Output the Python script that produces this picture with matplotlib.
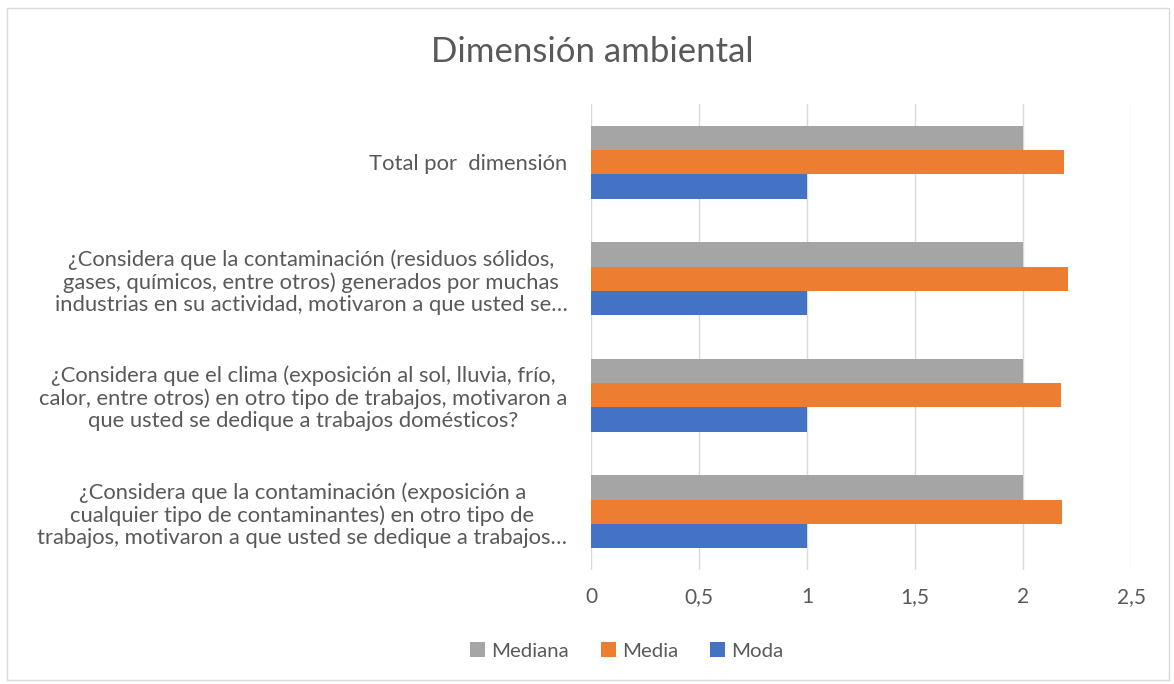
import matplotlib.pyplot as plt
import numpy as np

plt.rcParams['font.family'] = ['Lato', 'DejaVu Sans']

# categories listed bottom to top (matplotlib barh order)
categories = [
    "¿Considera que la contaminación (exposición a\ncualquier tipo de contaminantes) en otro tipo de\ntrabajos, motivaron a que usted se dedique a trabajos…",
    "¿Considera que el clima (exposición al sol, lluvia, frío,\ncalor, entre otros) en otro tipo de trabajos, motivaron a\nque usted se dedique a trabajos domésticos?",
    "¿Considera que la contaminación (residuos sólidos,\ngases, químicos, entre otros) generados por muchas\nindustrias en su actividad, motivaron a que usted se…",
    "Total por  dimensión",
]
mediana = [2, 2, 2, 2]
media = [2.18, 2.175, 2.21, 2.19]
moda = [1, 1, 1, 1]

tick_vals = [0, 0.5, 1, 1.5, 2, 2.5]
tick_labels = ["0", "0,5", "1", "1,5", "2", "2,5"]

text_col = "#595959"
c_mediana = "#A5A5A5"
c_media = "#ED7D31"
c_moda = "#4472C4"

fig = plt.figure(figsize=(11.74, 6.84), dpi=100)
ax = fig.add_axes([591 / 1174, 1 - 570 / 684, (1131 - 591) / 1174, (570 - 104) / 684])

y = np.arange(len(categories))
h = 0.21
ax.barh(y - h, moda, height=h, color=c_moda, label="Moda")
ax.barh(y, media, height=h, color=c_media, label="Media")
ax.barh(y + h, mediana, height=h, color=c_mediana, label="Mediana")

ax.set_xlim(0, 2.5)
ax.set_ylim(-0.5, len(categories) - 0.5)
ax.set_xticks(tick_vals)
ax.set_xticklabels(tick_labels, fontsize=15, color=text_col)
ax.set_yticks(y)
ax.set_yticklabels(categories, fontsize=15.8, color=text_col, multialignment="center",
                   linespacing=1.15)
ax.tick_params(axis="both", length=0)
ax.tick_params(axis="x", pad=12)
ax.tick_params(axis="y", pad=17)

ax.grid(axis="x", color="#D9D9D9", linewidth=1)
ax.set_axisbelow(True)
for s in ax.spines.values():
    s.set_visible(False)

fig.text(592 / 1174, 1 - 52 / 684, "Dimensión ambiental", ha="center", va="center",
         fontsize=25, color=text_col)

handles, labels = ax.get_legend_handles_labels()
fig.legend(handles[::-1], labels[::-1], loc="center", bbox_to_anchor=(0.534, 1 - 651 / 684),
           ncol=3, frameon=False, fontsize=14.7, labelcolor=text_col,
           handlelength=0.75, handleheight=0.75, handletextpad=0.3, columnspacing=1.55)

# outer chart border
fig.patches.append(plt.Rectangle((7 / 1174, 4 / 684), 1 - 12 / 1174, 1 - 12 / 684,
                                 transform=fig.transFigure, fill=False,
                                 edgecolor="#D9D9D9", linewidth=1))

fig.savefig("out.png", dpi=100)
